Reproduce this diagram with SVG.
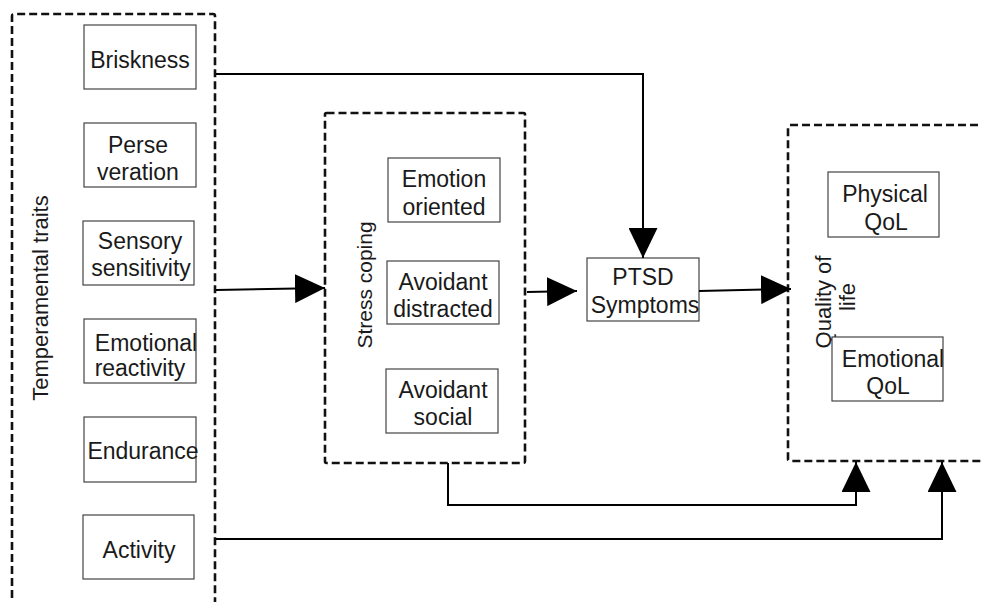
<svg xmlns="http://www.w3.org/2000/svg" width="982" height="602" viewBox="0 0 982 602">
<defs>
<style>
.grp{fill:none;stroke:#111;stroke-width:2.6;stroke-dasharray:8 4}
.box{fill:#fff;stroke:#444;stroke-width:1.2}
.t{font-family:"Liberation Sans",Arial,sans-serif;font-size:23px;fill:#1a1a1a;text-anchor:middle}
.lbl{font-family:"Liberation Sans",Arial,sans-serif;font-size:21px;fill:#1a1a1a;text-anchor:middle}
.c{fill:none;stroke:#000;stroke-width:2}
</style>
<marker id="ah" viewBox="0 0 30 29" refX="30" refY="14.5" markerWidth="30" markerHeight="29" orient="auto" markerUnits="userSpaceOnUse">
<path d="M0,0 L30,14.5 L0,29 Z" fill="#000"/>
</marker>
</defs>
<rect width="982" height="602" fill="#fff"/>

<g id="temperamental-traits">
<path class="grp" d="M12,610 V16 Q12,14 14,14 H213 Q215,14 215,16 V610"/>
<text class="lbl" transform="translate(48,298) rotate(-90)" style="font-size:22px">Temperamental traits</text>
</g>
<g id="briskness"><rect class="box" x="84" y="25" width="112" height="64"/><text class="t" x="140" y="68">Briskness</text></g>
<g id="perseveration"><rect class="box" x="84" y="123" width="112" height="64"/><text class="t" x="138" y="153">Perse</text><text class="t" x="138" y="180">veration</text></g>
<g id="sensory-sensitivity"><rect class="box" x="83" y="221" width="111" height="64"/><text class="t" x="140" y="249">Sensory</text><text class="t" x="141" y="276">sensitivity</text></g>
<g id="emotional-reactivity"><rect class="box" x="84" y="319" width="112" height="64"/><text class="t" x="146" y="351">Emotional</text><text class="t" x="140" y="376">reactivity</text></g>
<g id="endurance"><rect class="box" x="84" y="417" width="112" height="65"/><text class="t" x="143" y="459">Endurance</text></g>
<g id="activity"><rect class="box" x="83" y="515" width="111" height="64"/><text class="t" x="139" y="558">Activity</text></g>

<g id="stress-coping">
<rect class="grp" x="325" y="113" width="200" height="350" rx="1.5"/>
<text class="lbl" transform="translate(372,285) rotate(-90)">Stress coping</text>
</g>
<g id="emotion-oriented"><rect class="box" x="388" y="158" width="112" height="64"/><text class="t" x="444" y="187">Emotion</text><text class="t" x="444" y="215">oriented</text></g>
<g id="avoidant-distracted"><rect class="box" x="387" y="261" width="112" height="63"/><text class="t" x="443" y="290">Avoidant</text><text class="t" x="443" y="317">distracted</text></g>
<g id="avoidant-social"><rect class="box" x="386" y="369" width="112" height="64"/><text class="t" x="443" y="398">Avoidant</text><text class="t" x="443" y="425">social</text></g>

<g id="ptsd-symptoms"><rect class="box" x="587" y="258" width="112" height="63"/><text class="t" x="643" y="285">PTSD</text><text class="t" x="645" y="313">Symptoms</text></g>

<g id="quality-of-life">
<path class="grp" d="M990,125 H790 Q788,125 788,127 V459 Q788,461 790,461 H990"/>
<text class="lbl" transform="translate(831,302) rotate(-90)" style="font-size:22px">Quality of</text>
<text class="lbl" transform="translate(855,297) rotate(-90)" style="font-size:22px">life</text>
</g>
<g id="physical-qol"><rect class="box" x="828" y="172" width="111" height="65"/><text class="t" x="885" y="202">Physical</text><text class="t" x="886" y="230">QoL</text></g>
<g id="emotional-qol"><rect class="box" x="832" y="337" width="111" height="64"/><text class="t" x="893" y="367">Emotional</text><text class="t" x="888" y="394">QoL</text></g>

<g id="connectors">
<path class="c" d="M216,74 H643 V258" marker-end="url(#ah)"/>
<path class="c" d="M216,290 L325,288" marker-end="url(#ah)"/>
<path class="c" d="M527,292 L577,291" marker-end="url(#ah)"/>
<path class="c" d="M699,291 L791,289" marker-end="url(#ah)"/>
<path class="c" d="M448,463 V505 H856 V462" marker-end="url(#ah)"/>
<path class="c" d="M216,539 H942 V462" marker-end="url(#ah)"/>
</g>
</svg>
